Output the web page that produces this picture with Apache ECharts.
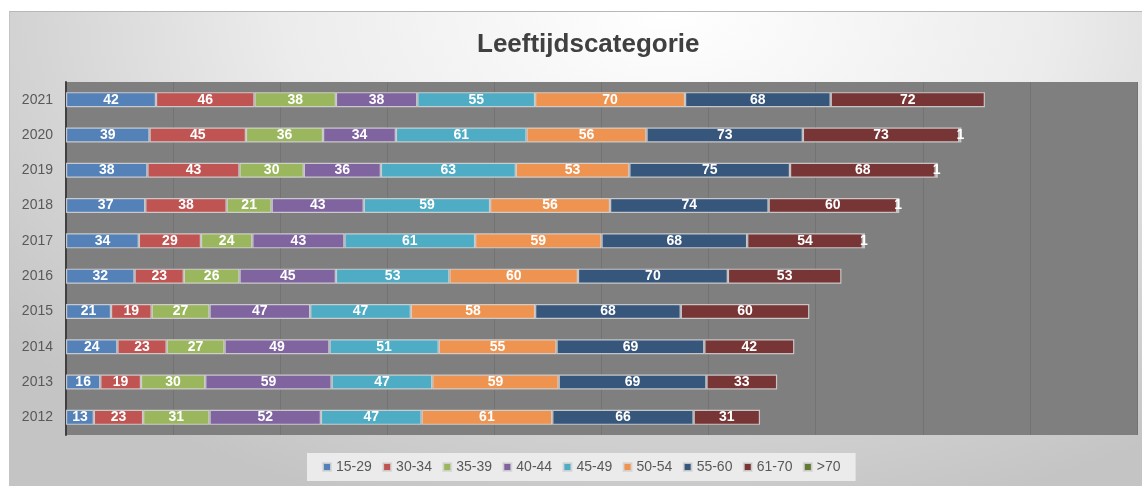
<!DOCTYPE html>
<html>
<head>
<meta charset="utf-8">
<script src="https://cdn.jsdelivr.net/npm/echarts@6/dist/echarts.min.js"></script>
<style>
  html, body { margin: 0; padding: 0; background: #ffffff; }
  .frame {
    position: absolute; left: 9px; top: 11px; width: 1133px; height: 475px;
    border-top: 1px solid #b8b8b8; border-left: 1px solid #c4c4c4;
    background: radial-gradient(ellipse 75% 110% at 58% 0%, #ffffff 0%, #ececec 45%, #d4d4d4 75%, #c4c4c4 100%);
  }
  #chart { position: absolute; left: 0; top: 0; width: 1142px; height: 486px; }
</style>
</head>
<body>
<div class="frame"></div>
<div id="chart"></div>
<script>
// jaren van onder naar boven
const years = ["2012", "2013", "2014", "2015", "2016", "2017", "2018", "2019", "2020", "2021"];
const groups = ["15-29", "30-34", "35-39", "40-44", "45-49", "50-54", "55-60", "61-70", ">70"];

const age15_29 = [13, 16, 24, 21, 32, 34, 37, 38, 39, 42];
const age30_34 = [23, 19, 23, 19, 23, 29, 38, 43, 45, 46];
const age35_39 = [31, 30, 27, 27, 26, 24, 21, 30, 36, 38];
const age40_44 = [52, 59, 49, 47, 45, 43, 43, 36, 34, 38];
const age45_49 = [47, 47, 51, 47, 53, 61, 59, 63, 61, 55];
const age50_54 = [61, 59, 55, 58, 60, 59, 56, 53, 56, 70];
const age55_60 = [66, 69, 69, 68, 70, 68, 74, 75, 73, 68];
const age61_70 = [31, 33, 42, 60, 53, 54, 60, 68, 73, 72];
const age70plus = [null, null, null, null, null, 1, 1, 1, 1, null];

const seriesData = [age15_29, age30_34, age35_39, age40_44, age45_49, age50_54, age55_60, age61_70, age70plus];
const colors = ["#5381b8", "#bf5452", "#9bb75d", "#7f64a0", "#4eacc5", "#ef9350", "#37567c", "#773535", "#627a34"];

const chart = echarts.init(document.getElementById("chart"));

const option = {
  color: colors,
  title: {
    text: "Leeftijdscategorie",
    left: 472,
    top: 27,
    textStyle: { fontFamily: "Liberation Sans", fontSize: 26, fontWeight: "bold", color: "#404040" }
  },
  legend: {
    bottom: 5,
    left: 307,
    data: groups,
    icon: "rect",
    itemWidth: 8,
    itemHeight: 8,
    itemGap: 10.3,
    padding: [7, 15, 7, 15],
    backgroundColor: "#ebebeb",
    textStyle: { fontFamily: "Liberation Sans", fontSize: 14, color: "#595959" }
  },
  grid: {
    left: 66,
    right: 5,
    top: 82,
    bottom: 51,
    show: true,
    backgroundColor: "#7f7f7f",
    borderWidth: 0
  },
  xAxis: {
    type: "value",
    min: 0,
    max: 500,
    interval: 50,
    axisLabel: { show: false },
    axisLine: { show: false },
    axisTick: { show: false },
    splitLine: { show: true, lineStyle: { color: "#737373", width: 1 } }
  },
  yAxis: {
    type: "category",
    data: years,
    axisLine: { show: true, lineStyle: { color: "#404040", width: 2 } },
    axisTick: { show: false },
    axisLabel: { fontFamily: "Liberation Sans", fontSize: 14, color: "#595959", margin: 13 }
  },
  series: groups.map((name, i) => ({
    name: name,
    type: "bar",
    stack: "total",
    barWidth: 15,
    data: seriesData[i],
    itemStyle: { borderColor: "rgba(215,215,215,0.85)", borderWidth: 1.2 },
    label: {
      show: true,
      position: "inside",
      color: "#ffffff",
      fontFamily: "Liberation Sans",
      fontWeight: "bold",
      fontSize: 14,
      formatter: (p) => (p.value ? p.value : "")
    }
  }))
};

chart.setOption(option);
</script>
</body>
</html>
